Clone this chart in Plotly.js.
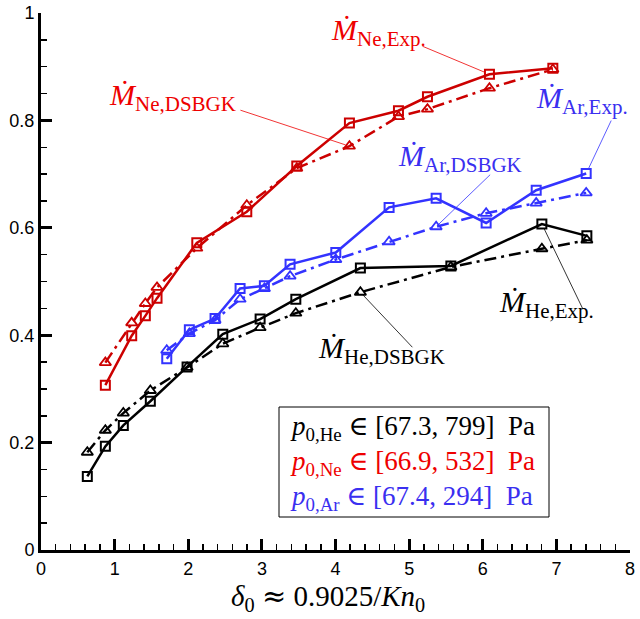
<!DOCTYPE html>
<html>
<head>
<meta charset="utf-8">
<script src="https://cdn.plot.ly/plotly-3.0.1.min.js"></script>
<style>
  html, body { margin: 0; padding: 0; background: #fff; }
  #chart { width: 640px; height: 619px; }
</style>
</head>
<body>
<div id="chart"></div>
<script>
// values
const heX = [0.629, 0.874, 1.118, 1.485, 1.984, 2.469, 2.976, 3.461, 4.338, 5.567, 6.803, 7.414];
const heExp = [0.137, 0.193, 0.232, 0.277, 0.341, 0.402, 0.430, 0.467, 0.525, 0.529, 0.607, 0.585];
const heDsbgk = [0.182, 0.223, 0.255, 0.297, 0.340, 0.384, 0.414, 0.441, 0.480, 0.527, 0.561, 0.577];

const neX = [0.874, 1.232, 1.417, 1.576, 2.116, 2.795, 3.474, 4.189, 4.855, 5.249, 6.091, 6.952];
const neExp = [0.307, 0.399, 0.436, 0.469, 0.572, 0.630, 0.715, 0.795, 0.818, 0.844, 0.886, 0.897];
const neDsbgk = [0.349, 0.423, 0.459, 0.489, 0.562, 0.642, 0.711, 0.752, 0.807, 0.821, 0.860, 0.895];

const arX = [1.708, 2.015, 2.364, 2.704, 3.034, 3.383, 4.004, 4.728, 5.367, 6.046, 6.726, 7.405];
const arExp = [0.356, 0.410, 0.431, 0.487, 0.492, 0.532, 0.554, 0.638, 0.655, 0.609, 0.670, 0.701];
const arDsbgk = [0.372, 0.403, 0.428, 0.467, 0.487, 0.510, 0.541, 0.574, 0.602, 0.627, 0.646, 0.665];

const xTicks = [0, 1, 2, 3, 4, 5, 6, 7, 8];
const yTicks = [0, 0.2, 0.4, 0.6, 0.8, 1];

const BLACK = '#000000', RED = '#cc0000', BLUE = '#3333ff';
const RED_TXT = '#ee0000', BLUE_TXT = '#3a2ff0';
const SERIF = 'Liberation Serif';
const DASHDOT = '12px,5px,3px,5px';

// plot box in pixels, used to place labels
const L = 41, T = 13, W = 589, H = 537;
const px = v => (v - L) / W;
const py = v => (T + H - v) / H;

// math symbols Liberation Serif lacks, kept in their own run so digits stay serif
const sym = s => `<span style="font-family:'DejaVu Serif'">${s}</span>`;

function expTrace(x, y, color) {
  return {
    x, y, type: 'scatter', mode: 'lines+markers',
    line: { color, width: 2.5 },
    marker: { symbol: 'square-open', size: 9, color, line: { width: 2, color } },
    hoverinfo: 'skip'
  };
}
function simTrace(x, y, color) {
  return {
    x, y, type: 'scatter', mode: 'lines+markers',
    line: { color, width: 2.5, dash: DASHDOT },
    marker: { symbol: 'triangle-up-open', size: 10, color, line: { width: 1.8, color } },
    hoverinfo: 'skip'
  };
}

const traces = [
  simTrace(heX, heDsbgk, BLACK), expTrace(heX, heExp, BLACK),
  simTrace(neX, neDsbgk, RED), expTrace(neX, neExp, RED),
  simTrace(arX, arDsbgk, BLUE), expTrace(arX, arExp, BLUE)
];

// text labels: [html, left px, centre px, colour]
const labels = [
  ['<i>Ṁ</i><sub>Ne,Exp.</sub>', 329, 32, RED_TXT],
  ['<i>Ṁ</i><sub>Ne,DSBGK</sub>', 107, 97, RED_TXT],
  ['<i>Ṁ</i><sub>Ar,Exp.</sub>', 534, 100, BLUE_TXT],
  ['<i>Ṁ</i><sub>Ar,DSBGK</sub>', 396, 158, BLUE_TXT],
  ['<i>Ṁ</i><sub>He,Exp.</sub>', 497, 304, BLACK],
  ['<i>Ṁ</i><sub>He,DSBGK</sub>', 316, 350, BLACK]
];

// leader lines: [x, y, dx, dy (pixels, down is positive), colour, gap at point]
const leaders = [
  [neX[10], neExp[10], -67, -28, RED_TXT, 4],
  [neX[7], neDsbgk[7], -109, -36, RED_TXT, 4],
  [arX[11], arExp[11], 25, -53, BLUE, 5],
  [arX[8], arDsbgk[8], 54, -52, BLUE, 3],
  [heX[10], heExp[10], 41, 85, BLACK, 5],
  [heX[8], heDsbgk[8], 52, 55, BLACK, 4]
];

const annotations = labels.map(([text, x, y, color]) => ({
  text, xref: 'paper', yref: 'paper', x: px(x), y: py(y),
  xanchor: 'left', yanchor: 'middle', showarrow: false,
  font: { family: SERIF, size: 30, color }
}));

const shapes = leaders.map(([x, y, dx, dy, color, gap]) => {
  const len = Math.hypot(dx, dy);
  return {
    type: 'line', xref: 'x', yref: 'y',
    xsizemode: 'pixel', ysizemode: 'pixel', xanchor: x, yanchor: y,
    x0: dx / len * gap, y0: -dy / len * gap, x1: dx, y1: -dy,
    line: { color, width: 0.8 }
  };
});

// pressure range box
shapes.push({
  type: 'rect', xref: 'paper', yref: 'paper',
  x0: px(279), x1: px(549), y0: py(517), y1: py(407),
  line: { color: BLACK, width: 1 }, fillcolor: '#ffffff', layer: 'above'
});

annotations.push({
  text: `<i>p</i><sub>0,He</sub> ${sym('∈')} [67.3, 799]  Pa<br>` +
        `<span style="color:${RED_TXT}"><i>p</i><sub>0,Ne</sub> ${sym('∈')} [66.9, 532]  Pa</span><br>` +
        `<span style="color:${BLUE_TXT}"><i>p</i><sub>0,Ar</sub> ${sym('∈')} [67.4, 294]  Pa</span>`,
  xref: 'paper', yref: 'paper', x: px(288), y: py(462),
  xanchor: 'left', yanchor: 'middle', align: 'left', showarrow: false,
  font: { family: SERIF, size: 27, color: BLACK }
});

annotations.push({
  text: `<i>δ</i><sub>0</sub> ${sym('≈')} 0.9025/<i>Kn</i><sub>0</sub>`,
  xref: 'paper', yref: 'paper', x: px(328), y: py(597),
  xanchor: 'center', yanchor: 'middle', showarrow: false,
  font: { family: SERIF, size: 29, color: BLACK }
});

const axisBase = {
  showline: true, linewidth: 3, linecolor: BLACK,
  ticks: 'inside', ticklen: 11, tickwidth: 3, tickcolor: BLACK,
  showgrid: false, zeroline: false,
  tickfont: { family: 'Liberation Sans', size: 18, color: BLACK }
};

const layout = {
  width: 640, height: 619,
  margin: { l: L, r: 640 - L - W, t: T, b: 619 - T - H },
  paper_bgcolor: '#ffffff', plot_bgcolor: '#ffffff',
  showlegend: false,
  xaxis: Object.assign({}, axisBase, {
    range: [0, 8], tickvals: xTicks,
    minor: { ticks: 'inside', ticklen: 6, tickwidth: 1.5, tickcolor: BLACK, dtick: 0.2, showgrid: false }
  }),
  yaxis: Object.assign({}, axisBase, {
    range: [0, 1], tickvals: yTicks, ticktext: yTicks.map(String),
    minor: { ticks: 'inside', ticklen: 6, tickwidth: 1.5, tickcolor: BLACK, dtick: 0.05, showgrid: false }
  }),
  annotations, shapes
};

Plotly.newPlot('chart', traces, layout, { displayModeBar: false, staticPlot: true });
</script>
</body>
</html>
